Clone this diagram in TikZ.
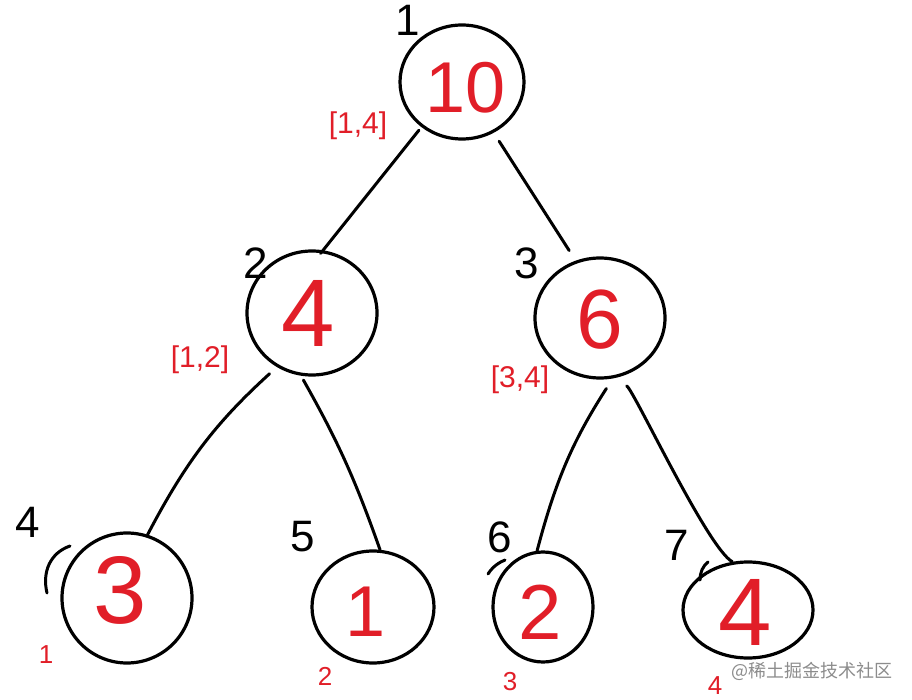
\documentclass[tikz,border=0pt]{standalone}
\usepackage{fontspec}
\setmainfont{Liberation Sans}
\newfontfamily\cjk{Noto Sans CJK SC}
\usetikzlibrary{shapes.geometric}
\definecolor{inkred}{RGB}{225,30,40}
\tikzset{
  blob/.style={draw=black, ellipse, line width=3.2pt, inner sep=0pt},
  val/.style={text=inkred, inner sep=0pt},
  idxlabel/.style={text=black, inner sep=0pt, font=\fontsize{44}{44}\selectfont},
  rnglabel/.style={text=inkred, inner sep=0pt, font=\fontsize{30}{30}\selectfont},
  leafpos/.style={text=inkred, inner sep=0pt, font=\fontsize{26}{26}\selectfont},
  link/.style={draw=black, line width=3pt, line cap=round},
  hook/.style={draw=black, line width=3pt, line cap=round},
}
\begin{document}
\begin{tikzpicture}[x=1pt,y=-1pt]
\useasboundingbox[fill=white] (0,0) rectangle (912,700);
% tree nodes
\node[blob, minimum width=124pt, minimum height=114pt] (r) at (462,82) {};
\node[blob, minimum width=130pt, minimum height=124pt] (a) at (312,313) {};
\node[blob, minimum width=130pt, minimum height=120pt] (b) at (600,318) {};
\node[blob, minimum width=130pt, minimum height=130pt] (c) at (127,598) {};
\node[blob, minimum width=122pt, minimum height=112pt] (d) at (373,607) {};
\node[blob, minimum width=100pt, minimum height=110pt] (e) at (543,607) {};
\node[blob, minimum width=130pt, minimum height=96pt] (f) at (748,610) {};
% values
\node[val, font=\fontsize{72}{72}\selectfont] (vr) at (466,88) {10};
\node[val, font=\fontsize{96}{96}\selectfont] (va) at (308,313) {4};
\node[val, font=\fontsize{84}{84}\selectfont] (vb) at (600,320) {6};
\node[val, font=\fontsize{96}{96}\selectfont] (vc) at (120,590) {3};
\node[val, font=\fontsize{72}{72}\selectfont] (vd) at (366,612) {1};
\node[val, font=\fontsize{78}{78}\selectfont] (ve) at (540,612) {2};
\node[val, font=\fontsize{96}{96}\selectfont] (vf) at (745,612) {4};
% edges
\draw[link, shorten <=4pt, shorten >=-4pt] (r.-132) -- (a.80);
\draw[link, shorten <=10pt, shorten >=12pt] (r.-58) -- (b.113);
\draw[link, shorten <=10pt] (a.-123) to[bend right=10] (c.72);
\draw[link, shorten <=5pt] (a.-100) to[bend left=5] (d.83);
\draw[link, shorten <=12pt] (b.-78) to[bend right=9] (e.96);
\draw[link, shorten <=15pt] (b.-77) .. controls +(20,12) and +(-25,-14) .. (f.108);
% small pen hooks
\draw[hook] (47,593) .. controls (42,572) and (50,553) .. (70,546);
\draw[hook] (488,574) .. controls (493,566) and (500,562) .. (505,560);
\draw[hook] (700,580) .. controls (700,572) and (703,566) .. (708,562);
% index labels
\node[idxlabel] (i1) at (408,20) {1};
\node[idxlabel] (i2) at (256,263) {2};
\node[idxlabel] (i3) at (527,263) {3};
\node[idxlabel] (i4) at (28,522) {4};
\node[idxlabel] (i5) at (303,537) {5};
\node[idxlabel] (i6) at (500,537) {6};
\node[idxlabel] (i7) at (677,545) {7};
% interval labels
\node[rnglabel] (g1) at (358,126) {[1,4]};
\node[rnglabel] (g2) at (200,360) {[1,2]};
\node[rnglabel] (g3) at (520,380) {[3,4]};
% leaf positions
\node[leafpos] (p1) at (46,655) {1};
\node[leafpos] (p2) at (325,676) {2};
\node[leafpos] (p3) at (510,682) {3};
\node[leafpos] (p4) at (715,686) {4};
% watermark
\node[text=black!45, inner sep=0pt, font=\cjk\fontsize{18}{18}\selectfont] (wm) at (812,671) {@稀土掘金技术社区};
\end{tikzpicture}
\end{document}
